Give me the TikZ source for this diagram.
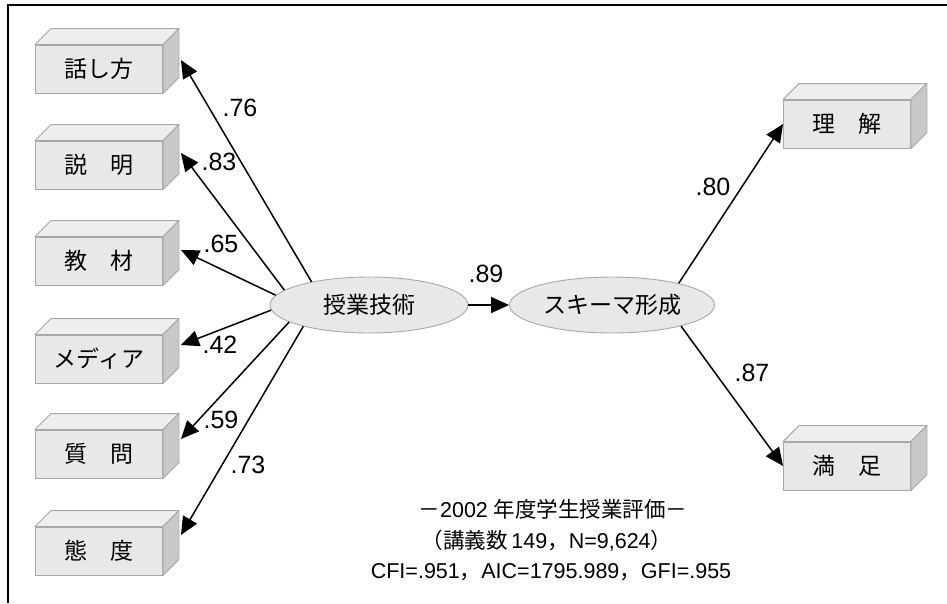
\documentclass[tikz,border=0pt]{standalone}
\usepackage{fontspec}
\setmainfont{Liberation Sans}
\newfontfamily\jp{Noto Sans CJK JP}
\usetikzlibrary{arrows.meta,shapes.geometric}
\definecolor{boxfront}{HTML}{E8E8E8}
\definecolor{boxtop}{HTML}{EEEEEE}
\definecolor{boxside}{HTML}{C8C8C8}
\definecolor{boxline}{HTML}{A8A8A8}
\tikzset{
  cubefront/.style={draw=boxline, fill=boxfront, line width=0.9pt, minimum width=127pt, minimum height=48pt, inner sep=0pt, font=\jp\fontsize{23}{28}\selectfont},
  cubetop/.style={draw=boxline, fill=boxtop, line width=0.9pt, line join=round},
  cubeside/.style={draw=boxline, fill=boxside, line width=0.9pt, line join=round},
  latent/.style={ellipse, draw=boxline, fill=boxfront, line width=0.9pt, inner sep=0pt, minimum height=56pt, font=\jp\fontsize{23}{28}\selectfont},
  arr/.style={line width=1.5pt, -{Triangle[length=18pt,width=16pt]}},
  lbl/.style={inner sep=0pt, font=\fontsize{25}{30}\selectfont},
  note/.style={inner sep=0pt, font=\fontsize{21.5}{26}\selectfont},
}
\newcommand\mycube[4]{%
  \node[cubefront] (#1) at (#2,#3) {#4};
  \filldraw[cubetop] (#1.north west) -- ++(16,-16) -- ([shift={(16,-16)}]#1.north east) -- (#1.north east) -- cycle;
  \filldraw[cubeside] (#1.north east) -- ([shift={(16,-16)}]#1.north east) -- ([shift={(16,-16)}]#1.south east) -- (#1.south east) -- cycle;
}
\begin{document}
\begin{tikzpicture}[x=1pt,y=-1pt]
\useasboundingbox (0,0) rectangle (947,603);
\fill[white] (0,0) rectangle (947,603);
\draw[line width=2pt] (947,5) -- (8,5) -- (8,603);

\mycube{b1}{99}{69}{話し方}
\mycube{b2}{99}{165}{説　明}
\mycube{b3}{99}{261}{教　材}
\mycube{b4}{99}{359}{メディア}
\mycube{b5}{99}{454}{質　問}
\mycube{b6}{99}{551}{態　度}
\mycube{b7}{847}{124}{理　解}
\mycube{b8}{847}{466}{満　足}

\node[latent, minimum width=198pt] (e1) at (369,305) {授業技術};
\node[latent, minimum width=205pt] (e2) at (612,305) {スキーマ形成};

\draw[arr] (e1.158) -- ([shift={(18,-9)}]b1.east);
\draw[arr] (e1.170) -- ([shift={(18,-12)}]b2.east);
\draw[arr] (e1.174) -- ([shift={(18,-11)}]b3.east);
\draw[arr] (e1.183) -- ([shift={(18,-14)}]b4.east);
\draw[arr] (e1.192) -- ([shift={(18,-15)}]b5.east);
\draw[arr] (e1.198) -- ([shift={(18,-16)}]b6.east);
\draw[arr] (e1.east) -- (e2.west);
\draw[arr] (e2.18) -- (b7.west);
\draw[arr] (e2.343) -- (b8.west);

\node[lbl] (l1) at (240,108) {.76};
\node[lbl] (l2) at (219,162) {.83};
\node[lbl] (l3) at (221,244) {.65};
\node[lbl] (l4) at (220,345) {.42};
\node[lbl] (l5) at (221,420) {.59};
\node[lbl] (l6) at (248,465) {.73};
\node[lbl] (l7) at (486,274) {.89};
\node[lbl] (l8) at (713,187) {.80};
\node[lbl] (l9) at (752,373) {.87};

\node[note] (t1) at (553,509) {{\jp －}2002 {\jp 年度学生授業評価－}};
\node[note] (t2) at (547,541) {{\jp （講義数}\,149{\jp ，}N=9,624{\jp ）}};
\node[note] (t3) at (551,572) {CFI=.951{\jp ，}AIC=1795.989{\jp ，}GFI=.955};
\end{tikzpicture}
\end{document}
